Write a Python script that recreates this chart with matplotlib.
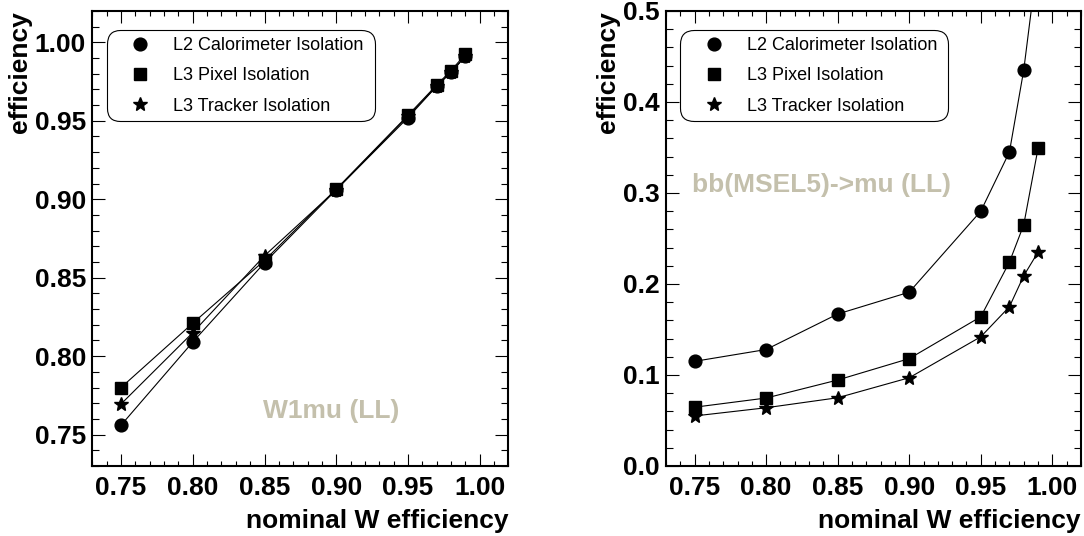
import matplotlib
matplotlib.use("Agg")
import matplotlib.pyplot as plt
from matplotlib.ticker import MultipleLocator, FormatStrFormatter

plt.rcParams['font.family'] = ['Liberation Sans', 'DejaVu Sans']

nominal = [0.75, 0.80, 0.85, 0.90, 0.95, 0.97, 0.98, 0.99]

# Left panel: W1mu (LL)
w_cal = [0.756, 0.809, 0.8595, 0.906, 0.952, 0.972, 0.981, 0.991]
w_pix = [0.780, 0.821, 0.861, 0.9065, 0.9535, 0.9728, 0.982, 0.9924]
w_trk = [0.7695, 0.815, 0.864, 0.906, 0.953, 0.972, 0.981, 0.991]

# Right panel: bb(MSEL5)->mu (LL)
b_cal = [0.115, 0.128, 0.167, 0.191, 0.280, 0.345, 0.435, 0.56]
b_pix = [0.0646, 0.0747, 0.0945, 0.118, 0.164, 0.224, 0.265, 0.349]
b_trk = [0.055, 0.064, 0.075, 0.097, 0.142, 0.175, 0.209, 0.235]

labels = ["L2 Calorimeter Isolation", "L3 Pixel Isolation", "L3 Tracker Isolation"]
annot = ["W1mu (LL)", "bb(MSEL5)->mu (LL)"]
beige = '#c4c0ac'
FS = 19

fig = plt.figure(figsize=(10.84, 5.36), dpi=100)
axL = fig.add_axes([0.0852, 0.1306, 0.3838, 0.849])
axR = fig.add_axes([0.6144, 0.1306, 0.3828, 0.849])


def draw(ax, cal, pix, trk, ylim, ymaj, ymin, yfmt):
    lt, = ax.plot(nominal, trk, '-', color='black', lw=0.8, marker='*', ms=10, zorder=3)
    lc, = ax.plot(nominal, cal, '-', color='black', lw=0.8, marker='o', ms=9.2, zorder=4)
    lp, = ax.plot(nominal, pix, '-', color='black', lw=0.8, marker='s', ms=9.2, zorder=5)
    ax.set_xlim(0.73, 1.02)
    ax.set_ylim(*ylim)
    ax.xaxis.set_major_locator(MultipleLocator(0.05))
    ax.xaxis.set_minor_locator(MultipleLocator(0.01))
    ax.yaxis.set_major_locator(MultipleLocator(ymaj))
    ax.yaxis.set_minor_locator(MultipleLocator(ymin))
    ax.xaxis.set_major_formatter(FormatStrFormatter('%.2f'))
    ax.yaxis.set_major_formatter(FormatStrFormatter(yfmt))
    ax.tick_params(which='both', direction='in', top=True, right=True, width=0.8)
    ax.tick_params(axis='x', which='major', length=8.5, labelsize=FS, pad=7)
    ax.tick_params(axis='x', which='minor', length=3.5)
    ax.tick_params(axis='y', which='major', length=9.5, labelsize=FS, pad=4.5)
    ax.tick_params(axis='y', which='minor', length=5)
    for lab in ax.get_xticklabels() + ax.get_yticklabels():
        lab.set_fontweight('bold')
    for sp in ax.spines.values():
        sp.set_linewidth(1.5)
    ax.set_xlabel("nominal W efficiency", fontsize=FS, fontweight='bold', loc='right', labelpad=7)
    ax.set_ylabel("efficiency", fontsize=FS, fontweight='bold', loc='top', labelpad=2)
    leg = ax.legend([lc, lp, lt], labels, loc='upper left', mode='expand',
                    bbox_to_anchor=(0.034, 0.958, 0.645, 0.0), borderaxespad=0,
                    fontsize=13, handlelength=3.0, handletextpad=0.3, borderpad=0.38,
                    labelspacing=0.74, frameon=True, fancybox=True, framealpha=1,
                    edgecolor='black')
    for h in leg.legend_handles:
        h.set_linestyle('None')
    fr = leg.get_frame()
    fr.set_linewidth(0.8)
    fr.set_boxstyle('round', pad=0, rounding_size=0.75)
    return ax


draw(axL, w_cal, w_pix, w_trk, (0.73, 1.02), 0.05, 0.01, '%.2f')
draw(axR, b_cal, b_pix, b_trk, (0.0, 0.5), 0.1, 0.02, '%.1f')

axL.text(0.574, 0.121, annot[0], transform=axL.transAxes, ha='center', va='center',
         fontsize=FS, fontweight='bold', color=beige)
axR.text(0.063, 0.618, annot[1], transform=axR.transAxes, ha='left', va='center',
         fontsize=FS, fontweight='bold', color=beige)

fig.savefig("out.png", dpi=100)
